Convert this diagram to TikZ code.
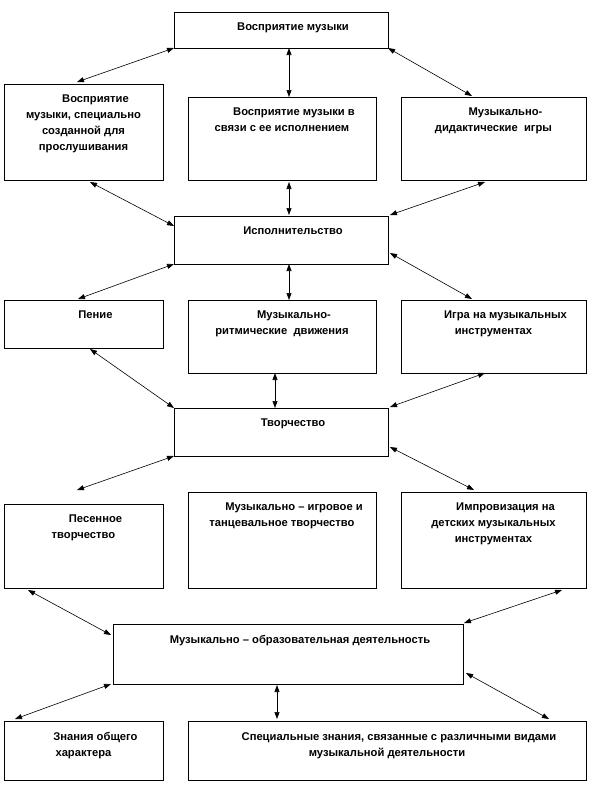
\documentclass[tikz,border=0pt]{standalone}
\usepackage{fontspec}
\setmainfont{Liberation Sans}
\usetikzlibrary{arrows.meta}
\newcommand{\otstup}{\hspace*{24pt}}
\begin{document}
\begin{tikzpicture}[x=1pt, y=-1pt, >={Triangle[length=7pt,width=5pt]},
	font=\fontsize{11.2}{16}\selectfont\bfseries,
	box/.style={draw, line width=0.8pt, inner sep=0pt, outer sep=0pt, anchor=north west},
	txt/.style={anchor=north, inner sep=0pt, align=center, yshift=-11pt},
	svyaz/.style={<->, line width=0.6pt}]
	\useasboundingbox (0,0) rectangle (589,804);
	% Восприятие
	\node[box, minimum width=214pt, minimum height=36pt] (a) at (174,12) {};
	\node[box, minimum width=159pt, minimum height=96pt] (b1) at (4,84) {};
	\node[box, minimum width=188pt, minimum height=83pt] (b2) at (188,97) {};
	\node[box, minimum width=185pt, minimum height=83pt] (b3) at (401,97) {};
	\node[txt] (ta) at (a.north) {\otstup Восприятие музыки};
	\node[txt] (tb1) at (b1.north) {\otstup Восприятие\\музыки, специально\\созданной для\\прослушивания};
	\node[txt] (tb2) at (b2.north) {\otstup Восприятие музыки в\\связи с ее исполнением};
	\node[txt] (tb3) at (b3.north) {\otstup Музыкально-\\дидактические\ \ игры};
	% Исполнительство
	\node[box, minimum width=214pt, minimum height=48pt] (c) at (174,216) {};
	\node[box, minimum width=159pt, minimum height=48pt] (d1) at (4,300) {};
	\node[box, minimum width=188pt, minimum height=73pt] (d2) at (188,300) {};
	\node[box, minimum width=185pt, minimum height=73pt] (d3) at (401,300) {};
	\node[txt] (tc) at (c.north) {\otstup Исполнительство};
	\node[txt] (td1) at (d1.north) {\otstup Пение};
	\node[txt] (td2) at (d2.north) {\otstup Музыкально-\\ритмические\ \ движения};
	\node[txt] (td3) at (d3.north) {\otstup Игра на музыкальных\\инструментах};
	% Творчество
	\node[box, minimum width=214pt, minimum height=48pt] (e) at (174,408) {};
	\node[box, minimum width=159pt, minimum height=84pt] (f1) at (4,504) {};
	\node[box, minimum width=188pt, minimum height=96pt] (f2) at (188,492) {};
	\node[box, minimum width=185pt, minimum height=96pt] (f3) at (401,492) {};
	\node[txt] (te) at (e.north) {\otstup Творчество};
	\node[txt] (tf1) at (f1.north) {\otstup Песенное\\творчество};
	\node[txt] (tf2) at (f2.north) {\otstup Музыкально – игровое и\\танцевальное творчество};
	\node[txt] (tf3) at (f3.north) {\otstup Импровизация на\\детских музыкальных\\инструментах};
	% Деятельность
	\node[box, minimum width=350pt, minimum height=60pt] (g) at (113,624) {};
	\node[box, minimum width=159pt, minimum height=59pt] (h1) at (4,721) {};
	\node[box, minimum width=398pt, minimum height=59pt] (h2) at (188,721) {};
	\node[txt] (tg) at (g.north) {\otstup Музыкально – образовательная деятельность};
	\node[txt] (th1) at (h1.north) {\otstup Знания общего\\характера};
	\node[txt] (th2) at (h2.north) {\otstup Специальные знания, связанные с различными видами\\музыкальной деятельности};
	% стрелки
	\draw[svyaz] (a.south west) -- ([xshift=-6.5pt,yshift=2pt]b1.north);
	\draw[svyaz] ([xshift=8pt]a.south) -- ([xshift=7pt]b2.north);
	\draw[svyaz] (a.south east) -- ([xshift=-21.5pt,yshift=1pt]b3.north);
	\draw[svyaz] ([xshift=6.5pt,yshift=-2pt]b1.south) -- ([yshift=-10pt]c.north west);
	\draw[svyaz] ([xshift=7pt,yshift=-2pt]b2.south) -- ([xshift=8pt,yshift=1pt]c.north);
	\draw[svyaz] ([xshift=-8.5pt,yshift=-2pt]b3.south) -- ([xshift=2pt,yshift=1pt]c.north east);
	\draw[svyaz] (c.south west) -- ([xshift=-5.5pt,yshift=1pt]d1.north);
	\draw[svyaz] ([xshift=8pt]c.south) -- ([xshift=7pt]d2.north);
	\draw[svyaz] ([xshift=2pt,yshift=11pt]c.south east) -- ([xshift=-21.5pt,yshift=1pt]d3.north);
	\draw[svyaz] ([xshift=6.5pt,yshift=-1pt]d1.south) -- (e.north west);
	\draw[svyaz] ([xshift=-7pt]d2.south) -- ([xshift=-6pt]e.north);
	\draw[svyaz] ([xshift=-8.5pt]d3.south) -- ([xshift=2pt,yshift=1pt]e.north east);
	\draw[svyaz] (e.south west) -- ([xshift=-6.5pt,yshift=14pt]f1.north);
	\draw[svyaz] ([xshift=2pt,yshift=9pt]e.south east) -- ([xshift=-19.5pt,yshift=2pt]f3.north);
	\draw[svyaz] ([xshift=24pt,yshift=-2pt]f1.south west) -- ([xshift=-2pt,yshift=-11pt]g.north west);
	\draw[svyaz] ([xshift=-24pt,yshift=-2pt]f3.south east) -- ([xshift=1pt,yshift=1pt]g.north east);
	\draw[svyaz] ([xshift=-2pt]g.south west) -- ([xshift=11pt,yshift=2pt]h1.north west);
	\draw[svyaz] ([xshift=-11pt,yshift=-1pt]g.south) -- ([xshift=89pt,yshift=2pt]h2.north west);
	\draw[svyaz] ([xshift=3pt,yshift=11pt]g.south east) -- ([xshift=-37pt,yshift=2pt]h2.north east);
\end{tikzpicture}
\end{document}
